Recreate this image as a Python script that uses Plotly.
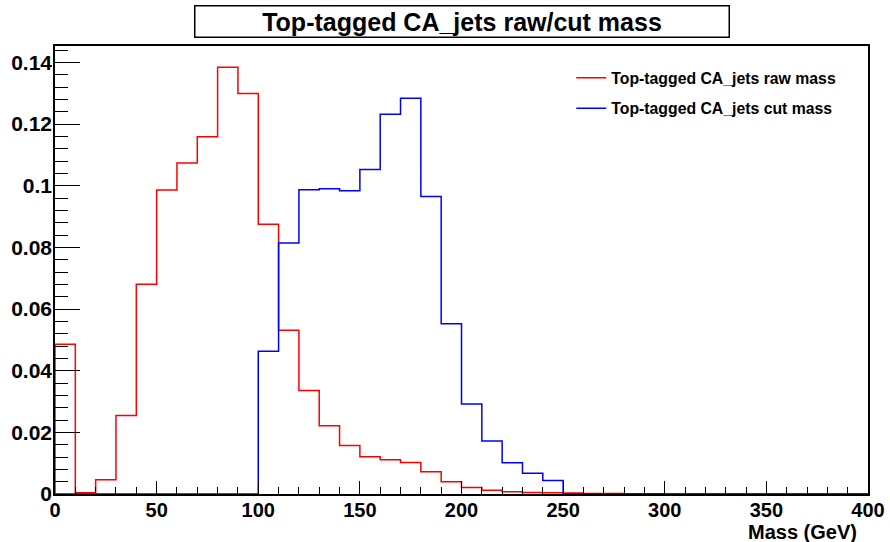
import plotly.graph_objects as go

# bin edges: 0..400 GeV in 10 GeV bins
bin_width = 10
n_bins = 40
bin_edges = [i * bin_width for i in range(n_bins + 1)]

raw_mass = [0.0486, 0.0004, 0.0046, 0.0255, 0.0680, 0.0986, 0.1074, 0.1159, 0.1384, 0.1299,
            0.0875, 0.0531, 0.0336, 0.0221, 0.0157, 0.0121, 0.0111, 0.0102, 0.0072, 0.0040,
            0.0021, 0.0012, 0.0007, 0.0005, 0.0004, 0.0003, 0.0002, 0.0002, 0.0001, 0.0001,
            0.0, 0.0, 0.0, 0.0, 0.0, 0.0, 0.0, 0.0, 0.0, 0.0]
cut_mass = [0.0, 0.0, 0.0, 0.0, 0.0, 0.0, 0.0, 0.0, 0.0, 0.0,
            0.0463, 0.0814, 0.0987, 0.0990, 0.0984, 0.1053, 0.1232, 0.1284, 0.0965, 0.0552,
            0.0292, 0.0172, 0.0101, 0.0067, 0.0044, 0.0, 0.0, 0.0, 0.0, 0.0,
            0.0, 0.0, 0.0, 0.0, 0.0, 0.0, 0.0, 0.0, 0.0, 0.0]

names = ["Top-tagged CA_jets raw mass", "Top-tagged CA_jets cut mass"]
colors = ["#ff0000", "#0000ff"]
title_text = "Top-tagged CA_jets raw/cut mass"
x_title = "Mass (GeV)"


def step_xy(values):
    xs = [bin_edges[0]] + bin_edges[:-1] + [bin_edges[-1]]
    ys = [0.0] + list(values) + [values[-1]]
    return xs, ys


fig = go.Figure()
for vals, name, col in zip([raw_mass, cut_mass], names, colors):
    xs, ys = step_xy(vals)
    fig.add_trace(go.Scatter(x=xs, y=ys, mode="lines", name=name,
                             line=dict(color=col, width=1.5, shape="hv"),
                             legendgroup=name))

font_family = "Liberation Sans, Arial, Helvetica, sans-serif"
ymax = max(raw_mass + cut_mass) * 1.05

fig.update_layout(
    width=890, height=542,
    margin=dict(l=55, r=22, t=46, b=48, autoexpand=False),
    paper_bgcolor="white", plot_bgcolor="white",
    font=dict(family=font_family, color="black"),
    showlegend=True,
    legend=dict(x=0.635, y=0.9665, xanchor="left", yanchor="top",
                bgcolor="rgba(0,0,0,0)", borderwidth=0,
                font=dict(size=15.8, family=font_family, weight="bold"),
                traceorder="grouped", tracegroupgap=7),
    xaxis=dict(range=[0, 400], showgrid=False, zeroline=False,
               showline=True, linecolor="black", linewidth=1.5, mirror=True,
               ticks="inside", ticklen=13, tickwidth=1.2, tickcolor="black",
               dtick=50, tick0=0, ticklabelstandoff=-3,
               minor=dict(ticks="inside", ticklen=7, dtick=10, tickwidth=1.2,
                          tickcolor="black", showgrid=False),
               tickfont=dict(size=20, family=font_family, weight="bold")),
    yaxis=dict(range=[0, ymax], showgrid=False, zeroline=False,
               showline=True, linecolor="black", linewidth=1.5, mirror=True,
               ticks="inside", ticklen=25, tickwidth=1.2, tickcolor="black",
               dtick=0.02, tick0=0, ticklabelstandoff=-3,
               minor=dict(ticks="inside", ticklen=13, dtick=0.004, tickwidth=1.2,
                          tickcolor="black", showgrid=False),
               tickfont=dict(size=21, family=font_family, weight="bold")),
    annotations=[
        dict(text="<b>" + title_text + "</b>", xref="paper", yref="paper",
             x=0.5, y=1.0558, xanchor="center", yanchor="middle",
             showarrow=False, font=dict(size=25, family=font_family),
             bordercolor="black", borderwidth=1.5, borderpad=0,
             width=533, height=30, bgcolor="white"),
        dict(text="<b>" + x_title + "</b>", xref="paper", yref="paper",
             x=0.989, y=-0.085, xanchor="right", yanchor="middle",
             showarrow=False, font=dict(size=20, family=font_family)),
    ],
)

fig.write_html("out.html")
